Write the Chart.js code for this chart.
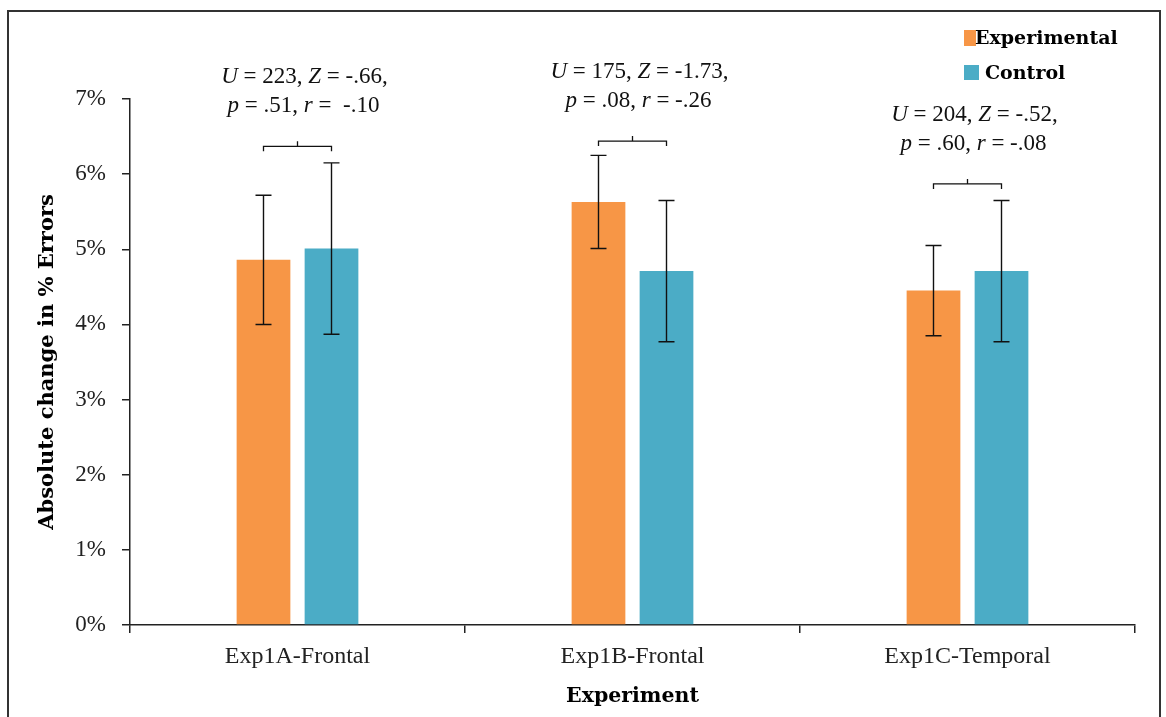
<!DOCTYPE html>
<html>
<head>
<meta charset="utf-8">
<script src="https://cdn.jsdelivr.net/npm/chart.js@4"></script>
<style>
  body { margin: 0; background: #fff; }
  #wrap { position: relative; width: 1166px; height: 717px; overflow: hidden; }
  #frame { position: absolute; left: 7px; top: 10px; width: 1150px; height: 800px; border: 2px solid #333; }
  #chart { position: absolute; left: 0; top: 0; }
</style>
</head>
<body>
<div id="wrap">
  <div id="frame"></div>
  <canvas id="chart" width="1166" height="717"></canvas>
</div>
<script>
// categories and series (values in %)
const categories = ["Exp1A-Frontal", "Exp1B-Frontal", "Exp1C-Temporal"];
const experimentalMeans = [4.86, 5.63, 4.45];
const experimentalErrors = [0.86, 0.62, 0.6];
const controlMeans = [5.01, 4.71, 4.71];
const controlErrors = [1.14, 0.94, 0.94];

// significance brackets, in % of the y axis, and their labels
const bracketLevels = [6.37, 6.44, 5.87];
const statLines1 = ["U = 223, Z = -.66,", "U = 175, Z = -1.73,", "U = 204, Z = -.52,"];
const statLines2 = ["p = .51, r =  -.10", "p = .08, r = -.26", "p = .60, r = -.08"];

const yTicks = [0, 1, 2, 3, 4, 5, 6, 7];

function chartColors() {
  return {
    orange: "#F79646",
    blue: "#4BACC6",
    ink: "#111",
    axis: "#222",
  };
}

const serif = "'Liberation Serif', 'Times New Roman', serif";
const boldSerif = "'DejaVu Serif', serif";

// error bars on every bar
const errorBars = {
  id: "errorBars",
  afterDatasetsDraw: (chart) => {
    const ctx = chart.ctx;
    const y = chart.scales.y;
    const errs = [experimentalErrors, controlErrors];
    ctx.save();
    ctx.strokeStyle = chartColors().ink;
    ctx.lineWidth = 1.4;
    chart.data.datasets.forEach((ds, di) => {
      const meta = chart.getDatasetMeta(di);
      meta.data.forEach((bar, i) => {
        const top = y.getPixelForValue(ds.data[i] + errs[di][i]);
        const bot = y.getPixelForValue(ds.data[i] - errs[di][i]);
        ctx.beginPath();
        ctx.moveTo(bar.x, top);
        ctx.lineTo(bar.x, bot);
        ctx.moveTo(bar.x - 8, top);
        ctx.lineTo(bar.x + 8, top);
        ctx.moveTo(bar.x - 8, bot);
        ctx.lineTo(bar.x + 8, bot);
        ctx.stroke();
      });
    });
    ctx.restore();
  },
};

// draw a line of text where single letters are set in italic
function drawMathLine(ctx, text, cx, cy, size) {
  const parts = [];
  for (const ch of text) {
    const it = /[A-Za-z]/.test(ch);
    const last = parts[parts.length - 1];
    if (last && last.it === it) last.s += ch;
    else parts.push({ s: ch, it: it });
  }
  let total = 0;
  parts.forEach((p) => {
    ctx.font = (p.it ? "italic " : "") + size + "px " + serif;
    p.w = ctx.measureText(p.s).width;
    total += p.w;
  });
  let x = cx - total / 2;
  ctx.textAlign = "left";
  ctx.textBaseline = "middle";
  parts.forEach((p) => {
    ctx.font = (p.it ? "italic " : "") + size + "px " + serif;
    ctx.fillText(p.s, x, cy);
    x += p.w;
  });
}

const brackets = {
  id: "brackets",
  afterDatasetsDraw: (chart) => {
    const ctx = chart.ctx;
    const y = chart.scales.y;
    const m0 = chart.getDatasetMeta(0);
    const m1 = chart.getDatasetMeta(1);
    ctx.save();
    ctx.strokeStyle = chartColors().ink;
    ctx.fillStyle = chartColors().ink;
    ctx.lineWidth = 1.3;
    bracketLevels.forEach((lvl, i) => {
      const x0 = m0.data[i].x;
      const x1 = m1.data[i].x;
      const by = y.getPixelForValue(lvl);
      const mid = (x0 + x1) / 2;
      ctx.beginPath();
      ctx.moveTo(x0, by + 5);
      ctx.lineTo(x0, by);
      ctx.lineTo(x1, by);
      ctx.lineTo(x1, by + 5);
      ctx.moveTo(mid, by);
      ctx.lineTo(mid, by - 5);
      ctx.stroke();
      drawMathLine(ctx, statLines1[i], mid + 7, by - 69, 23);
      drawMathLine(ctx, statLines2[i], mid + 6, by - 40, 23);
    });
    ctx.restore();
  },
};

const sideLegend = {
  id: "sideLegend",
  afterDraw: (chart) => {
    const ctx = chart.ctx;
    const c = chartColors();
    ctx.save();
    ctx.fillStyle = c.orange;
    ctx.fillRect(964, 30, 12, 16);
    ctx.fillStyle = c.blue;
    ctx.fillRect(964, 65, 15, 15);
    ctx.fillStyle = "#000";
    ctx.font = "bold 19px " + boldSerif;
    ctx.textAlign = "left";
    ctx.textBaseline = "alphabetic";
    ctx.fillText("Experimental", 975, 44);
    ctx.fillText("Control", 985, 79);
    ctx.restore();
  },
};

const colors = chartColors();

const config = {
  type: "bar",
  data: {
    labels: categories,
    datasets: [
      {
        label: "Experimental",
        data: experimentalMeans,
        backgroundColor: colors.orange,
        categoryPercentage: 0.406,
        barPercentage: 0.79,
      },
      {
        label: "Control",
        data: controlMeans,
        backgroundColor: colors.blue,
        categoryPercentage: 0.406,
        barPercentage: 0.79,
      },
    ],
  },
  options: {
    responsive: false,
    animation: false,
    layout: {
      padding: { left: 10, right: 31, top: 99, bottom: 0 },
    },
    plugins: {
      legend: { display: false },
      tooltip: { enabled: false },
    },
    scales: {
      x: {
        border: { display: true, color: colors.axis, width: 1.5 },
        grid: { drawOnChartArea: false, drawTicks: true, tickLength: 8, color: colors.axis, lineWidth: 1.5 },
        ticks: {
          color: "#222",
          font: { family: serif, size: 24 },
          padding: 9,
        },
        title: {
          display: true,
          text: "Experiment",
          color: "#000",
          font: { family: boldSerif, size: 20.5, weight: "bold" },
          padding: { top: 0, bottom: 8 },
        },
        afterFit: (scale) => {
          scale.height = 92;
        },
      },
      y: {
        min: 0,
        max: 7,
        border: { display: true, color: colors.axis, width: 1.5 },
        grid: { drawOnChartArea: false, drawTicks: true, tickLength: 8, color: colors.axis, lineWidth: 1.5 },
        afterBuildTicks: (scale) => {
          scale.ticks = yTicks.map((v) => ({ value: v }));
        },
        ticks: {
          color: "#222",
          font: { family: serif, size: 23 },
          padding: 16,
          callback: (v) => v + "%",
        },
        title: {
          display: true,
          text: "Absolute change in % Errors",
          color: "#000",
          font: { family: boldSerif, size: 21, weight: "bold" },
          padding: { top: 25, bottom: 0 },
        },
        afterFit: (scale) => {
          scale.width = 120;
        },
      },
    },
  },
  plugins: [errorBars, brackets, sideLegend],
};

new Chart(document.getElementById("chart"), config);
</script>
</body>
</html>
